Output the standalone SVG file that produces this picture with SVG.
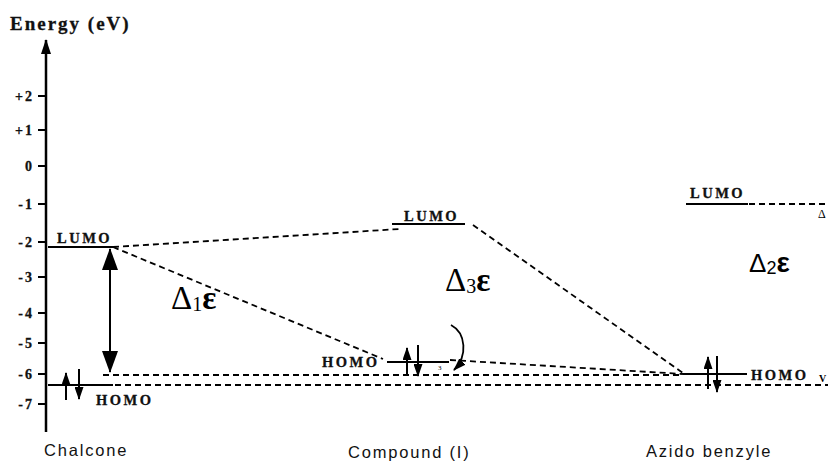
<svg xmlns="http://www.w3.org/2000/svg" width="828" height="461" viewBox="0 0 828 461">
<style>
.lvl{stroke:#000;stroke-width:2.2;fill:none}
.dash{stroke:#000;stroke-width:1.8;stroke-dasharray:6,4;fill:none}
.tick{stroke:#000;stroke-width:2}
.tl{font-family:"Liberation Serif",serif;font-weight:bold;font-size:14px;letter-spacing:2px;fill:#111;stroke:#111;stroke-width:0.3px;text-anchor:end}
.ml{font-family:"Liberation Serif",serif;font-weight:bold;font-size:14.5px;letter-spacing:2.5px;fill:#111;stroke:#111;stroke-width:0.3px}
.name{font-family:"Liberation Sans",sans-serif;font-size:16.5px;letter-spacing:1.8px;fill:#111}
.el{stroke:#000;stroke-width:2}
.de{font-family:"Liberation Serif",serif;font-size:33px;fill:#000}
</style>
<defs>
<marker id="big" markerUnits="userSpaceOnUse" markerWidth="22" markerHeight="16" refX="21" refY="8" orient="auto-start-reverse"><path d="M0,0 L22,8 L0,16 Z" fill="#000"/></marker>
<marker id="sm" markerUnits="userSpaceOnUse" markerWidth="13" markerHeight="9" refX="12" refY="4.5" orient="auto-start-reverse"><path d="M0,0 L13,4.5 L0,9 Z" fill="#000"/></marker>
<marker id="ax" markerUnits="userSpaceOnUse" markerWidth="15" markerHeight="10" refX="14" refY="5" orient="auto"><path d="M0,0 L15,5 L0,10 Z" fill="#000"/></marker>
</defs>
<rect width="828" height="461" fill="#fff"/>

<g id="axis">
<text x="10" y="30" font-family="Liberation Serif,serif" font-weight="bold" font-size="19" letter-spacing="2" fill="#111" stroke="#111" stroke-width="0.3">Energy (eV)</text>
<line x1="46" y1="432" x2="46" y2="40" stroke="#000" stroke-width="2.5" marker-end="url(#ax)"/>
<line class="tick" x1="38" y1="96" x2="46" y2="96"/><text class="tl" x="34" y="101">+2</text>
<line class="tick" x1="38" y1="130" x2="46" y2="130"/><text class="tl" x="34" y="135">+1</text>
<line class="tick" x1="38" y1="166" x2="46" y2="166"/><text class="tl" x="34" y="171">0</text>
<line class="tick" x1="38" y1="204" x2="46" y2="204"/><text class="tl" x="34" y="209">-1</text>
<line class="tick" x1="38" y1="242" x2="46" y2="242"/><text class="tl" x="34" y="247">-2</text>
<line class="tick" x1="38" y1="277" x2="46" y2="277"/><text class="tl" x="34" y="282">-3</text>
<line class="tick" x1="38" y1="313" x2="46" y2="313"/><text class="tl" x="34" y="318">-4</text>
<line class="tick" x1="38" y1="343" x2="46" y2="343"/><text class="tl" x="34" y="348">-5</text>
<line class="tick" x1="38" y1="374" x2="46" y2="374"/><text class="tl" x="34" y="379">-6</text>
<line class="tick" x1="38" y1="404" x2="46" y2="404"/><text class="tl" x="34" y="409">-7</text>
</g>

<g id="connectors">
<line class="dash" x1="113" y1="247" x2="400" y2="229"/>
<line class="dash" x1="113" y1="247" x2="383" y2="359"/>
<line class="dash" x1="473" y1="225" x2="683" y2="373"/>
<line class="dash" x1="450" y1="360" x2="683" y2="374"/>
<line class="dash" x1="103" y1="375" x2="683" y2="375"/>
<line class="dash" x1="115" y1="385" x2="828" y2="385"/>
<line class="dash" x1="749" y1="204" x2="828" y2="204"/>
<line x1="110" y1="249" x2="110" y2="372" stroke="#000" stroke-width="2" marker-start="url(#big)" marker-end="url(#big)"/>
<path d="M451,325 C466,333 468,356 454,370" stroke="#000" stroke-width="1.8" fill="none" marker-end="url(#sm)"/>
</g>

<g id="chalcone">
<line class="lvl" x1="48" y1="247" x2="113" y2="247"/>
<text class="ml" x="57" y="243">LUMO</text>
<line class="lvl" x1="48" y1="385" x2="113" y2="385"/>
<text class="ml" x="96" y="405">HOMO</text>
<line class="el" x1="66" y1="400" x2="66" y2="373" marker-end="url(#sm)"/>
<line class="el" x1="79" y1="369" x2="79" y2="399" marker-end="url(#sm)"/>
<text class="name" x="44" y="456">Chalcone</text>
</g>

<g id="compound">
<line class="lvl" x1="392" y1="224" x2="465" y2="224"/>
<text class="ml" x="404" y="221">LUMO</text>
<line class="lvl" x1="387" y1="362" x2="449" y2="362"/>
<text class="ml" x="322" y="367">HOMO</text>
<line class="el" x1="407" y1="375" x2="407" y2="348" marker-end="url(#sm)"/>
<line class="el" x1="418" y1="345" x2="418" y2="376" marker-end="url(#sm)"/>
<text x="438" y="370" font-family="Liberation Serif,serif" font-size="7" fill="#000">3</text>
<text class="name" x="348" y="458">Compound (I)</text>
</g>

<g id="azido">
<line class="lvl" x1="686" y1="204" x2="748" y2="204"/>
<text class="ml" x="690" y="198">LUMO</text>
<line class="lvl" x1="683" y1="374" x2="747" y2="374"/>
<text class="ml" x="751" y="380">HOMO</text>
<line class="el" x1="708" y1="389" x2="708" y2="357" marker-end="url(#sm)"/>
<line class="el" x1="717" y1="356" x2="717" y2="392" marker-end="url(#sm)"/>
<text class="name" x="646" y="457">Azido benzyle</text>
<text x="818" y="218" font-family="Liberation Serif,serif" font-size="12" fill="#000">Δ</text>
<text x="819" y="382" font-family="Liberation Serif,serif" font-weight="bold" font-size="10" fill="#000">V</text>
</g>

<g id="deltas">
<text class="de" x="171" y="309">Δ<tspan font-size="20" dy="2">1</tspan><tspan font-weight="bold" dy="-2">ε</tspan></text>
<text class="de" x="445" y="291">Δ<tspan font-size="20" dy="2">3</tspan><tspan font-weight="bold" dy="-2">ε</tspan></text>
<text x="749" y="272" font-family="Liberation Sans,sans-serif" font-size="26" fill="#000">Δ<tspan font-size="18" dy="2">2</tspan><tspan font-weight="bold" font-size="28" dy="-2">ε</tspan></text>
</g>
</svg>
